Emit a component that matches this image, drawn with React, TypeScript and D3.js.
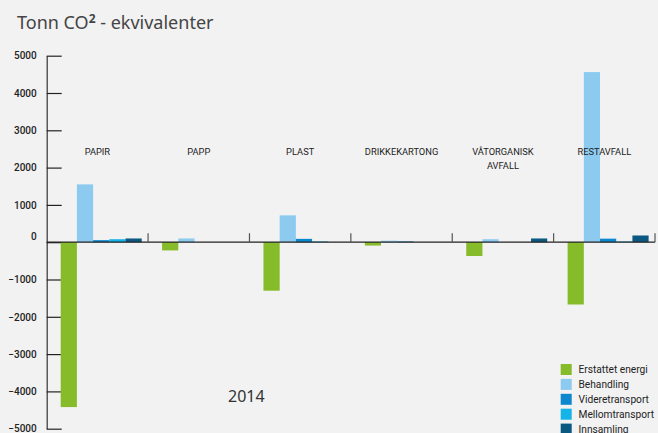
import { useEffect, useRef } from 'react';
import * as d3 from 'd3';

const categories = ['PAPIR', 'PAPP', 'PLAST', 'DRIKKEKARTONG', 'VÅTORGANISK AVFALL', 'RESTAVFALL'];
const seriesNames = ['Erstattet energi', 'Behandling', 'Videretransport', 'Mellomtransport', 'Innsamling'];
const seriesColors = ['#86bb29', '#8ccaf0', '#0d87cd', '#14b3e8', '#0b5882'];

const erstattetEnergi = [-4420, -220, -1300, -90, -370, -1670];
const behandling = [1550, 100, 720, 40, 80, 4560];
const videretransport = [55, 0, 90, 20, 0, 95];
const mellomtransport = [80, 0, 20, 0, 0, 20];
const innsamling = [100, 0, 0, 0, 100, 180];

const yTicks = [5000, 4000, 3000, 2000, 1000, 0, -1000, -2000, -3000, -4000, -5000];

const W = 658;
const H = 433;

export default function App() {
  const svgRef = useRef<SVGSVGElement>(null);

  useEffect(() => {
    if (!svgRef.current) return;
    const svg = d3.select(svgRef.current);
    svg.selectAll('*').remove();

    const values = [erstattetEnergi, behandling, videretransport, mellomtransport, innsamling];

    const x0 = d3.scaleBand<string>(categories, [46.7, 655]).padding(0);
    const x1 = d3.scaleBand<string>(seriesNames, [14, 95]).padding(0);
    const y = d3.scaleLinear([-5000, 5000], [428.7, 55.7]);

    // Title
    const title = svg.append('text').attr('x', 17).attr('y', 28.5)
      .attr('font-family', '"Noto Sans", sans-serif').attr('font-size', 18).attr('fill', '#444');
    title.append('tspan').text('Tonn CO');
    title.append('tspan').attr('font-size', 12).attr('font-weight', 700).attr('dy', -6).text('2');
    title.append('tspan').attr('dy', 6).text(' - ekvivalenter');

    // Y axis
    const ax = svg.append('g').attr('transform', 'translate(46.7,0)')
      .call(d3.axisLeft(y).tickValues(yTicks).tickSizeInner(-15).tickSizeOuter(0).tickPadding(10).tickFormat(d3.format('d')));
    ax.select('.domain').attr('stroke', '#333').attr('stroke-width', 1.2);
    ax.selectAll('.tick line').attr('stroke', '#222').attr('stroke-width', 1.2);
    ax.selectAll('.tick text')
      .attr('font-family', 'Roboto, sans-serif').attr('font-size', 10).attr('font-weight', 500).attr('fill', '#222')
      .attr('dy', (d: any) => (d === 0 ? '-0.3em' : '0.32em'));

    // Bars
    const g = svg.append('g');
    categories.forEach((cat, ci) => {
      seriesNames.forEach((s, si) => {
        const v = values[si][ci];
        if (!v) return;
        g.append('rect')
          .attr('x', (x0(cat) ?? 0) + (x1(s) ?? 0))
          .attr('width', x1.bandwidth())
          .attr('y', y(Math.max(0, v)))
          .attr('height', Math.abs(y(v) - y(0)))
          .attr('fill', seriesColors[si]);
      });
    });

    // Zero line + category separators
    svg.append('line').attr('x1', 46.7).attr('x2', 655).attr('y1', y(0)).attr('y2', y(0))
      .attr('stroke', '#222').attr('stroke-width', 1.2);
    categories.forEach(cat => {
      const xe = (x0(cat) ?? 0) + x0.bandwidth();
      svg.append('line').attr('x1', xe).attr('x2', xe).attr('y1', y(0) - 9).attr('y2', y(0))
        .attr('stroke', '#555').attr('stroke-width', 1.2);
    });

    // Category labels
    categories.forEach(cat => {
      const cx = (x0(cat) ?? 0) + x0.bandwidth() / 2;
      const lines = cat === 'VÅTORGANISK AVFALL' ? ['VÅTORGANISK', 'AVFALL'] : [cat];
      lines.forEach((t, i) => {
        svg.append('text').attr('x', cx).attr('y', 155 + i * 14)
          .attr('text-anchor', 'middle').attr('font-family', 'Roboto, sans-serif').attr('font-size', 9.3)
          .attr('fill', '#222').text(t);
      });
    });

    // Year
    svg.append('text').attr('x', 228).attr('y', 402)
      .attr('font-family', '"Noto Sans", sans-serif').attr('font-size', 16).attr('fill', '#333').text('2014');

    // Legend
    seriesNames.forEach((s, i) => {
      const ly = 364 + i * 14.9;
      svg.append('rect').attr('x', 560.7).attr('y', ly).attr('width', 11).attr('height', 11).attr('fill', seriesColors[i]);
      svg.append('text').attr('x', 578.5).attr('y', ly + 9.3)
        .attr('font-family', 'Roboto, sans-serif').attr('font-size', 10.2).attr('fill', '#222').text(s);
    });
  }, []);

  return (
    <div style={{ position: 'absolute', left: 0, top: 0, width: W, height: H, background: '#f2f2f2' }}>
      <svg ref={svgRef} width={W} height={H} style={{ display: 'block' }} />
    </div>
  );
}
